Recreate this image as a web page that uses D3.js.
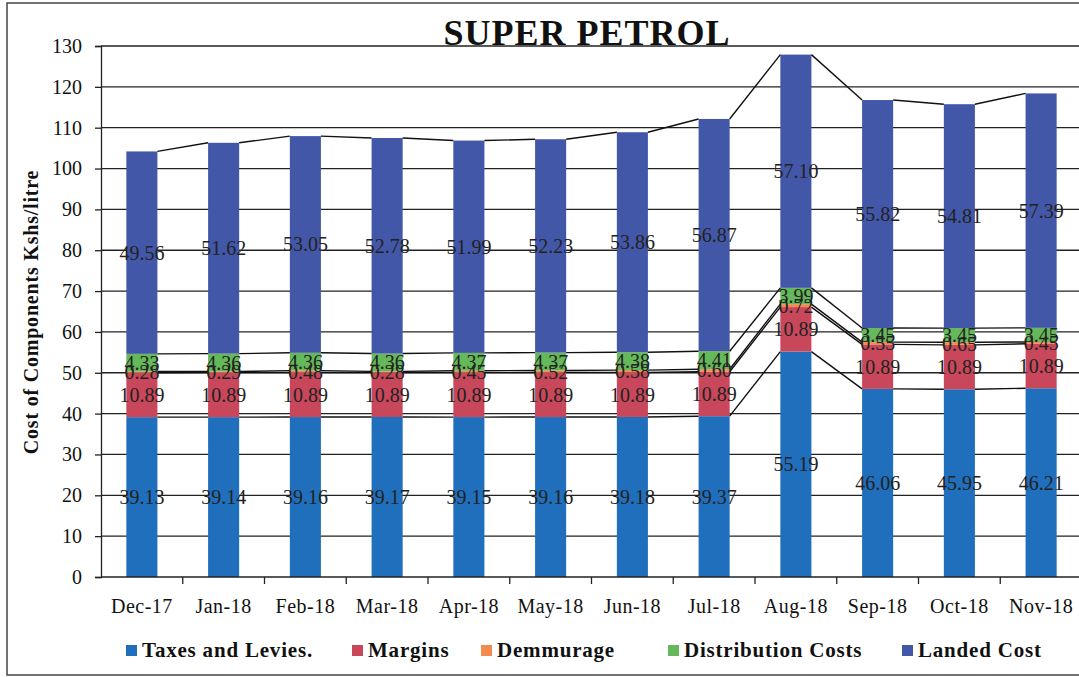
<!DOCTYPE html>
<html><head><meta charset="utf-8">
<script src="https://cdn.jsdelivr.net/npm/d3@7/dist/d3.min.js"></script>
<style>body{margin:0;background:#fff}svg{display:block}</style>
</head><body>
<svg id="c" width="1079" height="677"></svg>
<script>
const months = ["Dec-17","Jan-18","Feb-18","Mar-18","Apr-18","May-18","Jun-18","Jul-18","Aug-18","Sep-18","Oct-18","Nov-18"];
const taxes = [39.13,39.14,39.16,39.17,39.15,39.16,39.18,39.37,55.19,46.06,45.95,46.21];
const margins = [10.89,10.89,10.89,10.89,10.89,10.89,10.89,10.89,10.89,10.89,10.89,10.89];
const demurrage = [0.28,0.29,0.48,0.28,0.45,0.52,0.58,0.60,0.72,0.55,0.65,0.45];
const distribution = [4.33,4.36,4.36,4.36,4.37,4.37,4.38,4.41,3.99,3.45,3.45,3.45];
const landed = [49.56,51.62,53.05,52.78,51.99,52.23,53.86,56.87,57.10,55.82,54.81,57.39];
const seriesNames = ["Taxes and Levies.","Margins","Demmurage","Distribution Costs","Landed Cost"];
const seriesColors = ["#1f6fbd","#c8475a","#f58a4e","#66b95a","#4257a8"];
const yTicks = [0,10,20,30,40,50,60,70,80,90,100,110,120,130];

const seriesVals = [taxes, margins, demurrage, distribution, landed];
const keys = ["s0","s1","s2","s3","s4"];
const table = months.map((m,i)=>{const o={month:m}; keys.forEach((k,j)=>o[k]=seriesVals[j][i]); return o;});
const stacked = d3.stack().keys(keys)(table);

const svg = d3.select("#c");
const serif = "'Liberation Serif','Times New Roman',serif";

svg.append("rect").attr("x",7).attr("y",3).attr("width",1085).attr("height",672)
  .attr("fill","none").attr("stroke","#444").attr("stroke-width",1.5);

const x = d3.scaleBand().domain(months).range([101,1082]).paddingInner(0.62).paddingOuter(0.31);
const y = d3.scaleLinear().domain([0,130]).range([577,46]);

// gridlines
svg.append("g").selectAll("line").data(yTicks.filter(d=>d>0)).join("line")
  .attr("x1",101).attr("x2",1082).attr("y1",d=>y(d)).attr("y2",d=>y(d))
  .attr("stroke","#222").attr("stroke-width",1.3);

// bars
const g = svg.append("g");
stacked.forEach((s,j)=>{
  g.append("g").selectAll("rect").data(s).join("rect")
    .attr("x",d=>x(d.data.month)).attr("width",x.bandwidth())
    .attr("y",d=>y(d[1])).attr("height",d=>y(d[0])-y(d[1]))
    .attr("fill",seriesColors[j]);
});

// series lines
stacked.forEach((s,j)=>{
  const segs = d3.pairs(s);
  svg.append("g").selectAll("line").data(segs).join("line")
    .attr("x1",d=>x(d[0].data.month)+x.bandwidth()).attr("y1",d=>y(d[0][1]))
    .attr("x2",d=>x(d[1].data.month)).attr("y2",d=>y(d[1][1]))
    .attr("stroke","#111").attr("stroke-width",1.4);
});

// axes
const yAxis = d3.axisLeft(y).tickValues(yTicks).tickSize(6).tickPadding(13);
const ya = svg.append("g").attr("transform","translate(101,0)").call(yAxis);
ya.select(".domain").attr("stroke","#222").attr("stroke-width",1.3);
ya.selectAll(".tick line").attr("stroke","#222").attr("stroke-width",1.3);
ya.selectAll("text").attr("font-family",serif).attr("font-size",20).attr("fill","#111");

const xa = svg.append("g").attr("transform","translate(0,577)");
xa.append("line").attr("x1",101).attr("x2",1082).attr("stroke","#222").attr("stroke-width",1.3);
xa.selectAll(".tk").data(months.slice(1)).join("line")
  .attr("x1",d=>x(d)-x.step()*0.31).attr("x2",d=>x(d)-x.step()*0.31)
  .attr("y1",0).attr("y2",7).attr("stroke","#222").attr("stroke-width",1.3);
xa.selectAll("text").data(months).join("text")
  .attr("x",d=>x(d)+x.bandwidth()/2).attr("y",36).attr("text-anchor","middle")
  .attr("font-family",serif).attr("font-size",20).attr("letter-spacing",0.5).attr("fill","#111").text(d=>d);

// data labels
stacked.forEach((s,j)=>{
  svg.append("g").selectAll("text").data(s).join("text")
    .attr("x",d=>x(d.data.month)+x.bandwidth()/2)
    .attr("y",d=>y((d[0]+d[1])/2)+7)
    .attr("text-anchor","middle").attr("font-family",serif).attr("font-size",20)
    .attr("fill","#222").text(d=>d3.format(".2f")(d[1]-d[0]));
});

// title
svg.append("text").attr("x",587).attr("y",45).attr("text-anchor","middle")
  .attr("font-family",serif).attr("font-weight","bold").attr("font-size",36).attr("letter-spacing",1).attr("fill","#111")
  .text("SUPER PETROL");

// y label
svg.append("text").attr("transform","translate(38,312) rotate(-90)").attr("text-anchor","middle")
  .attr("font-family",serif).attr("font-weight","bold").attr("font-size",20).attr("letter-spacing",0.8).attr("fill","#111")
  .text("Cost of Components Kshs/litre");

// legend
const legX = [126,352,481,668,902];
const lg = svg.append("g").selectAll("g").data(seriesNames).join("g")
  .attr("transform",(d,i)=>`translate(${legX[i]},657)`);
lg.append("rect").attr("x",0).attr("y",-12).attr("width",11).attr("height",11)
  .attr("fill",(d,i)=>seriesColors[i]);
lg.append("text").attr("x",16).attr("y",0).attr("font-family",serif).attr("font-weight","bold")
  .attr("font-size",21).attr("letter-spacing",0.8).attr("fill","#111").text(d=>d);
</script>
</body></html>
